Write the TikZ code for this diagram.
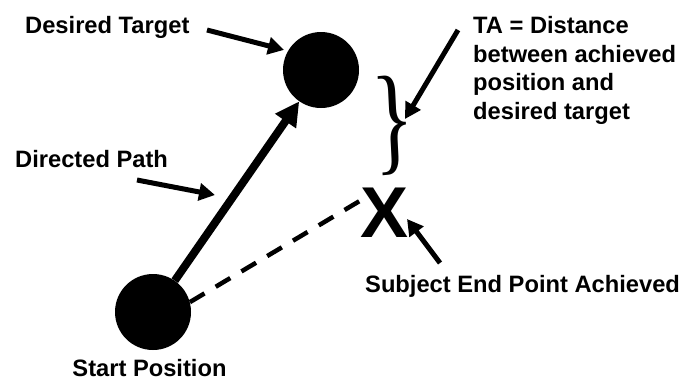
\documentclass[tikz,border=0pt]{standalone}
\usepackage{fontspec}
\setmainfont{Liberation Sans}
\newfontfamily\bracefont{Liberation Serif}
\usepackage{tikz}
\usetikzlibrary{arrows.meta, positioning}
\tikzstyle{dot} = [circle, fill=black, minimum size=76pt, inner sep=0pt]
\tikzstyle{lbl} = [font=\fontsize{23.7}{28.5}\selectfont\bfseries, inner sep=0pt]
\tikzstyle{pointer} = [line width=5pt, -{Triangle[length=16pt, width=17pt]}]
\tikzstyle{mainarrow} = [line width=8pt, -{Triangle[length=24pt, width=24pt]}]
\tikzstyle{dashline} = [line width=4.5pt, dash pattern=on 17pt off 13pt]

\begin{document}
\begin{tikzpicture}[x=1pt, y=-1pt]
    \useasboundingbox (0,0) rectangle (687,381);

    \node (target) [dot] at (321,70) {};
    \node (start) [dot] at (153,312) {};
    \node (xmark) [font=\fontsize{72}{72}\selectfont\bfseries, inner sep=0pt, anchor=base] at (384.5,237) {X};
    \node (brace) [font=\bracefont\fontsize{120}{120}\selectfont, inner sep=0pt, xscale=0.72, rotate=4] at (393,125) {\}};

    \node (tgtlbl) [lbl, anchor=base west] at (25,33) {Desired Target};
    \node (dplbl) [lbl, anchor=base west] at (15,167) {Directed Path};
    \node (startlbl) [lbl, below=9pt of start, xshift=-3.5pt] {Start Position};
    \node (sublbl) [lbl, anchor=base west] at (365,292) {Subject End Point Achieved};
    \node (talbl) [lbl, anchor=north west, align=left] at (473,16.2) {TA = Distance\\between achieved\\position and\\desired target};

    \coordinate (tgttail) at (207,30);
    \coordinate (dptail) at (137,180);
    \coordinate (dphead) at (215,195);
    \coordinate (tatail) at (458,30);
    \coordinate (tahead) at (405,119);
    \coordinate (xtail) at (440,263);
    \coordinate (xhead) at (407,219);
    \coordinate (xend) at (363,199);

    \draw [mainarrow] (start) -- (target);
    \draw [dashline] (start.15) -- (xend);
    \draw [pointer, shorten >=4pt] (tgttail) -- (target.150);
    \draw [pointer] (dptail) -- (dphead);
    \draw [pointer] (tatail) -- (tahead);
    \draw [pointer] (xtail) -- (xhead);
\end{tikzpicture}
\end{document}
